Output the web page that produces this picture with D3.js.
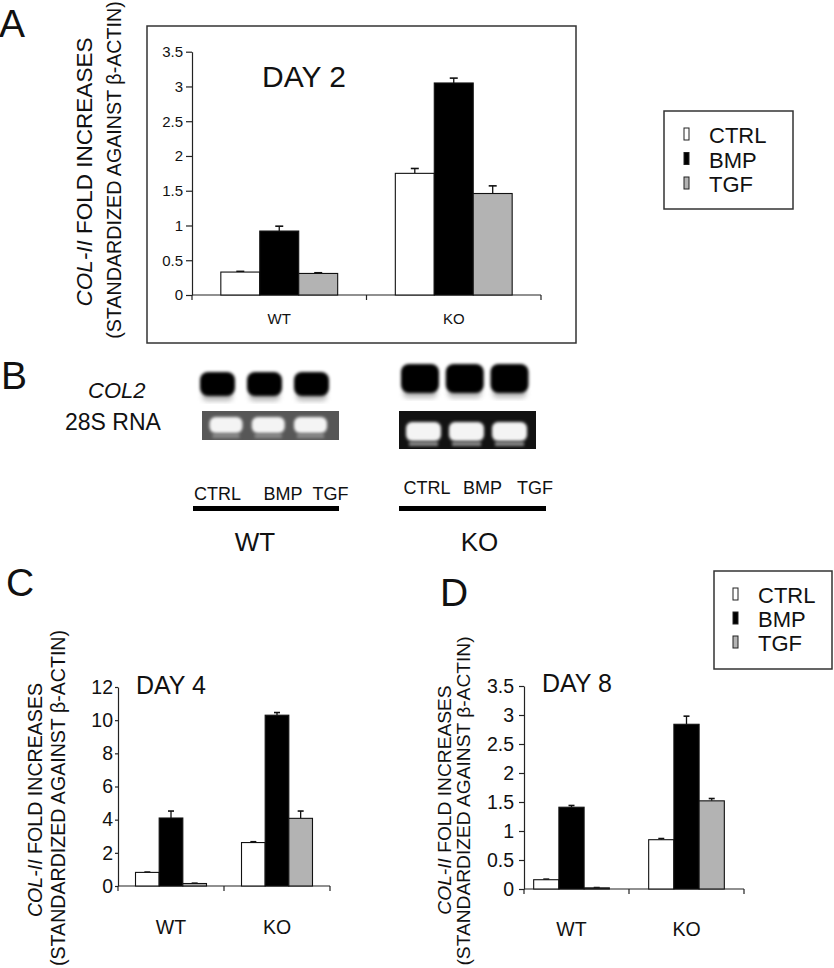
<!DOCTYPE html>
<html>
<head>
<meta charset="utf-8">
<script src="https://cdn.jsdelivr.net/npm/d3@7"></script>
<style>
  body { margin: 0; background: #fff; }
  svg { font-family: "Liberation Sans", Arial, sans-serif; }
</style>
</head>
<body>
<script>
// data
const groups = ["WT", "KO"];
const treatments = ["CTRL", "BMP", "TGF"];
const fills = ["#ffffff", "#000000", "#b3b3b3"];

const day2 = [[0.33, 0.92, 0.31], [1.75, 3.05, 1.46]];
const day2Err = [[0.01, 0.07, 0.01], [0.07, 0.07, 0.11]];
const day4 = [[0.82, 4.1, 0.15], [2.62, 10.3, 4.08]];
const day4Err = [[0.02, 0.42, 0.02], [0.05, 0.16, 0.44]];
const day8 = [[0.16, 1.41, 0.02], [0.85, 2.84, 1.52]];
const day8Err = [[0.01, 0.03, 0.005], [0.02, 0.14, 0.04]];

const ticksA = [0, 0.5, 1, 1.5, 2, 2.5, 3, 3.5];
const ticksC = [0, 2, 4, 6, 8, 10, 12];
const ticksD = [0, 0.5, 1, 1.5, 2, 2.5, 3, 3.5];

const W = 834, H = 968;
const svg = d3.select("body").append("svg")
    .attr("width", W)
    .attr("height", H);

const defs = svg.append("defs");
defs.append("filter").attr("id", "blur")
    .attr("x", "-30%").attr("y", "-30%").attr("width", "160%").attr("height", "160%")
    .append("feGaussianBlur").attr("stdDeviation", 1.6);
defs.append("filter").attr("id", "blurSoft")
    .attr("x", "-30%").attr("y", "-30%").attr("width", "160%").attr("height", "160%")
    .append("feGaussianBlur").attr("stdDeviation", 2.5);

function yLabel(x1, x2, yc1, yc2, fs1, fs2) {
    let t1 = svg.append("text")
        .attr("transform", `translate(${x1},${yc1}) rotate(-90)`)
        .attr("text-anchor", "middle")
        .attr("font-size", fs1)
        .attr("fill", "#111");
    t1.append("tspan").attr("font-style", "italic").text("COL-II");
    t1.append("tspan").text(" FOLD INCREASES");
    svg.append("text")
        .attr("transform", `translate(${x2},${yc2}) rotate(-90)`)
        .attr("text-anchor", "middle")
        .attr("font-size", fs2)
        .attr("fill", "#111")
        .text("(STANDARDIZED AGAINST \u03b2-ACTIN)");
}

function barChart(o) {
    let g = svg.append("g");
    let y = d3.scaleLinear().domain([0, o.max]).range([o.y0, o.y1]);
    let x = d3.scaleBand().domain(groups).range([o.xa, o.xb]);
    let xi = d3.scaleBand().domain(treatments).range([0, x.bandwidth()]).paddingOuter(o.pad);

    if (o.box) {
        g.append("rect")
            .attr("x", o.box[0]).attr("y", o.box[1])
            .attr("width", o.box[2] - o.box[0]).attr("height", o.box[3] - o.box[1])
            .attr("fill", "none").attr("stroke", "#333").attr("stroke-width", 1.5);
    }

    let ya = g.append("g")
        .attr("transform", `translate(${o.ax},0)`)
        .call(d3.axisLeft(y).tickValues(o.ticks).tickFormat(d => String(d))
            .tickSize(o.tick).tickPadding(o.tpad).tickSizeOuter(0))
        .attr("font-size", o.fs)
        .attr("font-family", null);
    ya.selectAll("path, line").attr("stroke", "#222").attr("stroke-width", 1.2);
    ya.selectAll("text").attr("fill", "#111");

    // category axis
    g.append("line")
        .attr("x1", o.ax).attr("x2", o.xb)
        .attr("y1", y(0)).attr("y2", y(0))
        .attr("stroke", "#222").attr("stroke-width", 1.2);
    let bounds = [o.ax].concat(groups.slice(1).map(d => x(d)), [o.xb]);
    g.selectAll(".xt").data(bounds).join("line")
        .attr("x1", d => d).attr("x2", d => d)
        .attr("y1", y(0)).attr("y2", y(0) + 5)
        .attr("stroke", "#222").attr("stroke-width", 1.2);
    g.selectAll(".xl").data(groups).join("text")
        .attr("x", d => x(d) + x.bandwidth() / 2)
        .attr("y", o.xlabY)
        .attr("text-anchor", "middle")
        .attr("font-size", o.xfs)
        .attr("fill", "#111")
        .text(d => d);

    let cells = [];
    groups.forEach((gr, i) => treatments.forEach((t, j) => {
        cells.push({gr, t, j, v: o.data[i][j], e: o.err[i][j]});
    }));

    // error bars (upper only)
    let eb = g.selectAll(".eb").data(cells).join("g");
    eb.append("line")
        .attr("x1", d => x(d.gr) + xi(d.t) + xi.bandwidth() / 2)
        .attr("x2", d => x(d.gr) + xi(d.t) + xi.bandwidth() / 2)
        .attr("y1", d => y(d.v)).attr("y2", d => y(d.v + d.e))
        .attr("stroke", "#111").attr("stroke-width", 1.3);
    eb.append("line")
        .attr("x1", d => x(d.gr) + xi(d.t) + xi.bandwidth() / 2 - o.cap)
        .attr("x2", d => x(d.gr) + xi(d.t) + xi.bandwidth() / 2 + o.cap)
        .attr("y1", d => y(d.v + d.e)).attr("y2", d => y(d.v + d.e))
        .attr("stroke", "#111").attr("stroke-width", 1.6);

    g.selectAll(".bar").data(cells).join("rect")
        .attr("x", d => x(d.gr) + xi(d.t))
        .attr("y", d => y(d.v))
        .attr("width", xi.bandwidth())
        .attr("height", d => y(0) - y(d.v))
        .attr("fill", d => fills[d.j])
        .attr("stroke", "#111")
        .attr("stroke-width", 1.1);

    g.append("text")
        .attr("x", o.titleX).attr("y", o.titleY)
        .attr("font-size", o.titleFs)
        .attr("fill", "#111")
        .text(o.title);
}

function legend(box, swX, textX, base0, dy) {
    svg.append("rect")
        .attr("x", box[0]).attr("y", box[1])
        .attr("width", box[2] - box[0]).attr("height", box[3] - box[1])
        .attr("fill", "#fff").attr("stroke", "#333").attr("stroke-width", 1.5);
    treatments.forEach((t, j) => {
        svg.append("rect")
            .attr("x", swX).attr("y", base0 + j * dy - 15)
            .attr("width", 5).attr("height", 12)
            .attr("fill", fills[j]).attr("stroke", "#222").attr("stroke-width", 1);
        svg.append("text")
            .attr("x", textX).attr("y", base0 + j * dy)
            .attr("font-size", 22).attr("fill", "#111")
            .text(t);
    });
}

function panelLetter(l, x, y) {
    svg.append("text").attr("x", x).attr("y", y)
        .attr("font-size", 39).attr("fill", "#111").text(l);
}

// ---------- A ----------
panelLetter("A", -1, 37);
yLabel(92, 121, 172, 170, 22.5, 19.7);
barChart({
    data: day2, err: day2Err, max: 3.5, ticks: ticksA,
    y0: 295, y1: 51.7, ax: 192, xa: 192, xb: 541, pad: 0.74,
    tick: 6, tpad: 3, fs: 15, xfs: 15, xlabY: 324, cap: 4,
    box: [147, 26, 576, 343],
    title: "DAY 2", titleX: 262, titleY: 87, titleFs: 30
});
legend([664, 111, 793, 209], 684, 709, 143, 24.5);

// ---------- B (blots) ----------
panelLetter("B", 1, 389);
svg.append("text").attr("x", 88).attr("y", 398)
    .attr("font-size", 22).attr("font-style", "italic").attr("fill", "#111").text("COL2");
svg.append("text").attr("x", 65).attr("y", 430)
    .attr("font-size", 23).attr("fill", "#111").text("28S RNA");

const blots = [
    {name: "WT", blob: [217.5, 311.5], blobY: [372, 399], blobW: 35,
     gel: [202, 339], gelY: [411, 440], gelFill: "#575757",
     band: [226, 310.5], bandY: [417, 436], bandW: 33,
     labels: [217.5, 283, 330.5], labY: 500, bar: [193, 339], nameX: 255},
    {name: "KO", blob: [420, 509.5], blobY: [364, 396], blobW: 38,
     gel: [399, 536], gelY: [411, 449], gelFill: "#121212",
     band: [423.5, 509.5], bandY: [422, 444], bandW: 35,
     labels: [427, 482.5, 535], labY: 494, bar: [399, 546], nameX: 479.5}
];

blots.forEach(b => {
    let lane = d3.scalePoint().domain(treatments).range(b.blob);
    let gl = d3.scalePoint().domain(treatments).range(b.band);
    // COL2 blobs
    treatments.forEach(t => {
        svg.append("rect")
            .attr("x", lane(t) - b.blobW / 2 + 2).attr("y", b.blobY[1] - 8)
            .attr("width", b.blobW - 4).attr("height", 10)
            .attr("rx", 5).attr("fill", "#777").attr("opacity", 0.5)
            .attr("filter", "url(#blurSoft)");
        svg.append("rect")
            .attr("x", lane(t) - b.blobW / 2).attr("y", b.blobY[0])
            .attr("width", b.blobW).attr("height", b.blobY[1] - b.blobY[0] - 3)
            .attr("rx", 8).attr("fill", "#050505")
            .attr("filter", "url(#blur)");
    });
    // 28S gel
    svg.append("rect")
        .attr("x", b.gel[0]).attr("y", b.gelY[0])
        .attr("width", b.gel[1] - b.gel[0]).attr("height", b.gelY[1] - b.gelY[0])
        .attr("fill", b.gelFill);
    treatments.forEach(t => {
        svg.append("rect")
            .attr("x", gl(t) - b.bandW / 2 + 3).attr("y", b.bandY[1] - 2)
            .attr("width", b.bandW - 6).attr("height", 4)
            .attr("fill", "#8a8a8a").attr("filter", "url(#blur)");
        svg.append("rect")
            .attr("x", gl(t) - b.bandW / 2).attr("y", b.bandY[0])
            .attr("width", b.bandW).attr("height", b.bandY[1] - b.bandY[0] - 3)
            .attr("rx", 6).attr("fill", "#f4f4f4")
            .attr("filter", "url(#blur)");
    });
    // lane labels and group bar
    treatments.forEach((t, j) => {
        svg.append("text")
            .attr("x", b.labels[j]).attr("y", b.labY)
            .attr("text-anchor", "middle")
            .attr("font-size", 18).attr("fill", "#111")
            .text(t);
    });
    svg.append("rect")
        .attr("x", b.bar[0]).attr("y", 506)
        .attr("width", b.bar[1] - b.bar[0]).attr("height", 5)
        .attr("fill", "#000");
    svg.append("text")
        .attr("x", b.nameX).attr("y", 551)
        .attr("text-anchor", "middle")
        .attr("font-size", 26).attr("fill", "#111")
        .text(b.name);
});

// ---------- C ----------
panelLetter("C", 6, 596);
yLabel(42, 65, 800, 798, 19.6, 19.6);
barChart({
    data: day4, err: day4Err, max: 12, ticks: ticksC,
    y0: 886, y1: 687, ax: 118, xa: 118, xb: 330, pad: 0.74,
    tick: 3, tpad: 2, fs: 19.5, xfs: 19.5, xlabY: 934, cap: 3,
    title: "DAY 4", titleX: 136, titleY: 694, titleFs: 25
});

// ---------- D ----------
panelLetter("D", 440, 606);
yLabel(451, 470, 800, 801, 19.2, 19.2);
barChart({
    data: day8, err: day8Err, max: 3.5, ticks: ticksD,
    y0: 889, y1: 686, ax: 524, xa: 514, xb: 744, pad: 0.78,
    tick: 5, tpad: 5, fs: 19.5, xfs: 19.5, xlabY: 936, cap: 3,
    title: "DAY 8", titleX: 542, titleY: 692, titleFs: 25
});
legend([714, 571, 832, 669], 733, 758, 603, 24);
</script>
</body>
</html>
